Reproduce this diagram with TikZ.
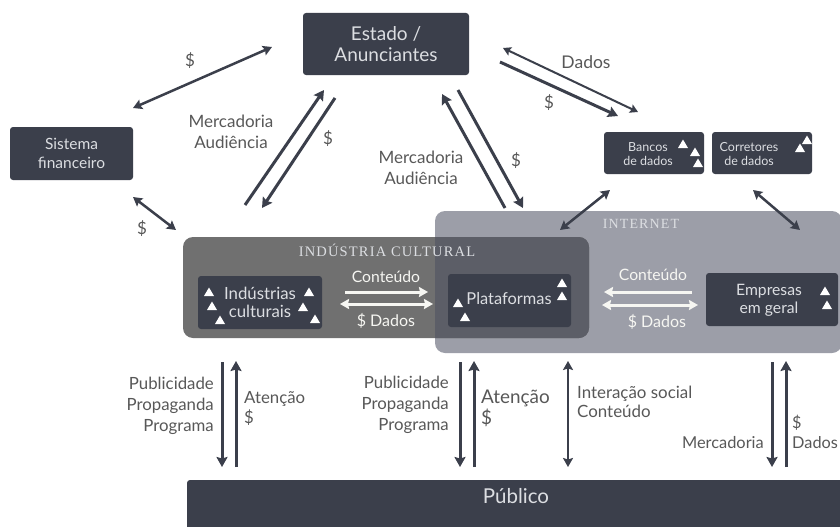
\documentclass[tikz,border=0pt]{standalone}
\usepackage{fontspec}
\setmainfont{Lato}
\newfontfamily\titlefont[LetterSpace=8]{Liberation Serif}
\usetikzlibrary{arrows.meta}
\definecolor{dark}{HTML}{3B3F4B}
\definecolor{indcol}{HTML}{707070}
\definecolor{netcol}{HTML}{9C9EA8}
\definecolor{overcol}{HTML}{5C5E67}
\definecolor{lbl}{HTML}{585858}
\definecolor{boxtxt}{HTML}{DCDEE2}
\definecolor{warr}{HTML}{F6F6F2}
\newcommand\fsz[2]{\fontsize{#1}{#2}\selectfont}
\begin{document}
\begin{tikzpicture}[x=1pt,y=-1pt,
  darkbox/.style={fill=dark,rounded corners=3pt,text=boxtxt,align=center,inner sep=0pt},
  lab/.style={text=lbl,align=center,inner sep=0pt},
  arr/.style={draw=dark,line width=3pt,-{Stealth[length=10pt,width=11pt,inset=1.5pt]}},
  darr/.style={draw=dark,line width=2.5pt,{Stealth[length=9pt,width=10pt,inset=1.5pt]}-{Stealth[length=9pt,width=10pt,inset=1.5pt]}},
  warrow/.style={draw=warr,line width=3pt,-{Stealth[length=9pt,width=10pt,inset=1pt]}},
  wdarr/.style={draw=warr,line width=3pt,{Stealth[length=9pt,width=10pt,inset=1pt]}-{Stealth[length=9pt,width=10pt,inset=1pt]}},
  wtri/.pic={\fill[white] (-5,4)--(5,4)--(0,-4.5)--cycle;}
]
\useasboundingbox (0,0) rectangle (840,527);
\fill[white] (0,0) rectangle (840,527);

% regions
\fill[netcol,rounded corners=10pt] (435,211) rectangle (842,353);
\fill[indcol,rounded corners=10pt] (183,237) rectangle (589,338);
\begin{scope}
  \clip[rounded corners=10pt] (435,211) rectangle (842,353);
  \fill[overcol,rounded corners=10pt] (183,237) rectangle (589,338);
\end{scope}
\node[text=boxtxt,font=\titlefont\fsz{14.5}{17}] (indt) at (387,250) {INDÚSTRIA CULTURAL};
\node[text=boxtxt,font=\titlefont\fsz{14}{17}] (nett) at (641,224) {INTERNET};

% boxes
\node[darkbox,minimum width=166pt,minimum height=62pt,font=\fsz{19}{21}] (estado) at (386,44) {Estado /\\Anunciantes};
\node[darkbox,minimum width=123pt,minimum height=53pt,font=\fsz{15.5}{19}] (sistema) at (71.5,153.5) {Sistema\\financeiro};
\node[darkbox,minimum width=100pt,minimum height=42pt] (bancos) at (654,153) {};
\node[text=boxtxt,align=center,font=\fsz{12.5}{14.5},inner sep=0pt] (bancost) at (648,154) {Bancos\\de dados};
\node[darkbox,minimum width=100pt,minimum height=42pt] (corret) at (762,153) {};
\node[text=boxtxt,align=center,font=\fsz{12.5}{14.5},inner sep=0pt] (corrett) at (749,154) {Corretores\\de dados};
\node[darkbox,minimum width=124pt,minimum height=53pt,font=\fsz{16.8}{18}] (indus) at (260,302.5) {Indústrias\\culturais};
\node[darkbox,minimum width=123pt,minimum height=53pt] (plat) at (509.5,300.5) {};
\node[text=boxtxt,font=\fsz{16.4}{18},inner sep=0pt] (platt) at (509,299) {Plataformas};
\node[darkbox,minimum width=132pt,minimum height=53pt] (empr) at (772,299.5) {};
\node[text=boxtxt,align=center,font=\fsz{15.7}{18},inner sep=0pt] (emprt) at (769,300) {Empresas\\em geral};
\fill[dark,rounded corners=3pt] (187,480) rectangle (850,540);
\node[text=boxtxt,font=\fsz{20.5}{22},inner sep=0pt] (publico) at (516,496) {Público};

% triangles
\foreach \p in {(209,292),(309,292),(212,306),(220,320),(303,307),(315,319),
  (562,283),(562,296),(458,303),(465,317),
  (825,291),(827,305),
  (683,144),(695,152),(698,163),
  (807,140),(800,148)}
  \pic at \p {wtri};

% top arrows
\coordinate (sf1) at (133,108); \coordinate (sf2) at (272,47);
\draw[darr] (sf1) -- (sf2);
\node[lab,font=\fsz{17}{19}] (d1) at (190,61) {\$};

\coordinate (m1s) at (245,205); \coordinate (m1e) at (324,90);
\draw[arr] (m1s) -- (m1e);
\coordinate (m2s) at (335,98); \coordinate (m2e) at (262,208);
\draw[arr] (m2s) -- (m2e);
\node[lab,font=\fsz{17}{21}] (ma1) at (231,132) {Mercadoria\\Audiência};
\node[lab,font=\fsz{17}{19}] (d2) at (328,139) {\$};

\coordinate (si1) at (133,197); \coordinate (si2) at (176,230);
\draw[darr] (si1) -- (si2);
\node[lab,font=\fsz{17}{19}] (d3) at (142,229) {\$};

\coordinate (p1s) at (505,208); \coordinate (p1e) at (442,94);
\draw[arr] (p1s) -- (p1e);
\coordinate (p2s) at (458,90); \coordinate (p2e) at (523,208);
\draw[arr] (p2s) -- (p2e);
\node[lab,font=\fsz{17}{21}] (ma2) at (421,168) {Mercadoria\\Audiência};
\node[lab,font=\fsz{17}{19}] (d4) at (516,161) {\$};

\coordinate (b1s) at (503,48); \coordinate (b1e) at (638,112);
\draw[draw=dark,line width=2pt,{Stealth[length=8pt,width=9pt,inset=1.5pt]}-{Stealth[length=8pt,width=9pt,inset=1.5pt]}] (b1s) -- (b1e);
\coordinate (b2s) at (500,62); \coordinate (b2e) at (618,116);
\draw[arr] (b2s) -- (b2e);
\node[lab,font=\fsz{17.5}{19}] (dados1) at (586,62) {Dados};
\node[lab,font=\fsz{17}{19}] (d5) at (549,103) {\$};

\coordinate (bi1) at (610,190); \coordinate (bi2) at (560,230);
\draw[darr] (bi1) -- (bi2);
\coordinate (ci1) at (753,190); \coordinate (ci2) at (800,230);
\draw[darr] (ci1) -- (ci2);

% white arrows
\coordinate (w1s) at (345,292); \coordinate (w1e) at (428,292);
\draw[warrow] (w1s) -- (w1e);
\coordinate (w2s) at (340,304); \coordinate (w2e) at (433,304);
\draw[wdarr] (w2s) -- (w2e);
\node[text=warr,font=\fsz{15.7}{18},inner sep=0pt] (c1) at (386,277) {Conteúdo};
\node[text=warr,font=\fsz{16}{18},inner sep=0pt] (sd1) at (386,321) {\$ Dados};

\coordinate (w3s) at (692,292); \coordinate (w3e) at (604,292);
\draw[warrow] (w3s) -- (w3e);
\coordinate (w4s) at (602,305); \coordinate (w4e) at (698,305);
\draw[wdarr] (w4s) -- (w4e);
\node[text=warr,font=\fsz{15.7}{18},inner sep=0pt] (c2) at (653,275) {Conteúdo};
\node[text=warr,font=\fsz{16}{18},inner sep=0pt] (sd2) at (657,322) {\$ Dados};

% bottom arrows
\foreach \x/\n in {222/a,460/b,772/c}{
  \coordinate (dn\n s) at (\x,362); \coordinate (dn\n e) at (\x,467);
  \draw[arr] (dn\n s) -- (dn\n e);
}
\foreach \x/\n in {236/a,474/b,786/c}{
  \coordinate (up\n s) at (\x,467); \coordinate (up\n e) at (\x,361);
  \draw[arr] (up\n s) -- (up\n e);
}
\coordinate (ias) at (568,361); \coordinate (iae) at (568,467);
\draw[darr] (ias) -- (iae);

\node[lab,align=right,anchor=east,font=\fsz{16.8}{21}] (pub1) at (214,406) {Publicidade\\Propaganda\\Programa};
\node[lab,align=left,anchor=west,font=\fsz{16.8}{20}] (at1) at (244,408) {Atenção\\\$};
\node[lab,align=right,anchor=east,font=\fsz{16.8}{21}] (pub2) at (449,405) {Publicidade\\Propaganda\\Programa};
\node[lab,align=left,anchor=west,font=\fsz{18.9}{21}] (at2) at (481,408) {Atenção\\\$};
\node[lab,align=left,anchor=west,font=\fsz{16.9}{19}] (int1) at (577,402) {Interação social\\Conteúdo};
\node[lab,anchor=east,font=\fsz{16.4}{19}] (merc3) at (764,443) {Mercadoria};
\node[lab,align=left,anchor=west,font=\fsz{16.3}{20}] (dd3) at (792,432) {\$\\Dados};
\end{tikzpicture}
\end{document}
